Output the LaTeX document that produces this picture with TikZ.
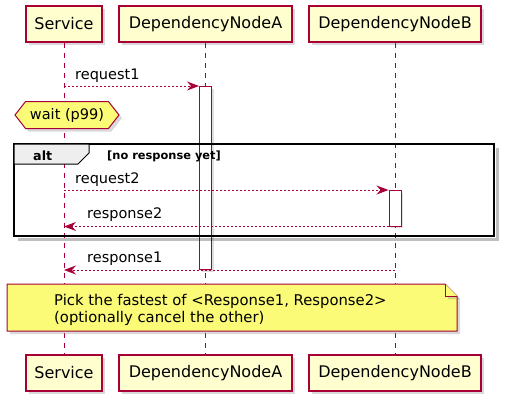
\documentclass[tikz,border=0pt]{standalone}
\usepackage{fontspec}
\setmainfont{DejaVu Sans}
\usetikzlibrary{shapes,shadows,arrows.meta,positioning,calc}
\definecolor{umlborde}{HTML}{A80036}
\definecolor{umlfondo}{HTML}{FEFECE}
\definecolor{umlnota}{HTML}{FBFB77}
\definecolor{umlpestana}{HTML}{EEEEEE}
\tikzset{
    participante/.style={
        rectangle,                % caja del participante
        draw=umlborde,            % borde granate
        fill=umlfondo,            % relleno crema
        line width=1.5pt,
        minimum width=#1,         % ancho según el nombre
        minimum height=36pt,
        inner sep=0pt,
        font=\fontsize{16}{19}\selectfont,
        drop shadow={shadow xshift=3pt, shadow yshift=-3pt, opacity=0.3}
    },
    lineavida/.style={
        draw=umlborde,
        line width=1pt,
        dash pattern=on 5pt off 5pt  % discontinua larga
    },
    activacion/.style={
        rectangle,
        draw=umlborde,
        fill=white,
        line width=1pt,
        minimum width=12pt,
        minimum height=#1,        % duración de la activación
        inner sep=0pt,
        anchor=north,
        drop shadow={shadow xshift=2pt, shadow yshift=-2pt, opacity=0.25}
    },
    mensaje/.style={
        draw=umlborde,
        line width=1pt,
        dash pattern=on 2pt off 2pt, % punteado fino
        -{Stealth[length=12pt, width=9pt, inset=4pt]}
    },
    etiqueta/.style={
        font=\fontsize{14.5}{17}\selectfont,
        inner sep=0pt,
        anchor=base west
    },
    espera/.style={
        shape=signal,             % hexágono alargado
        signal to=west and east,
        signal pointer angle=104,
        draw=umlborde,
        fill=umlnota,
        line width=1pt,
        minimum height=27pt,
        inner xsep=4pt,
        inner ysep=0pt,
        font=\fontsize{14.5}{17}\selectfont,
        drop shadow={shadow xshift=3pt, shadow yshift=-3pt, opacity=0.3}
    },
    marco/.style={draw=black, line width=2pt},
    sombramarco/.style={draw=black, line width=3pt, opacity=0.25},
    pestana/.style={draw=black, fill=umlpestana, line width=1pt},
    textoalt/.style={font=\bfseries\fontsize{12.7}{15}\selectfont, inner sep=0pt, anchor=base west},
    condicion/.style={font=\bfseries\fontsize{11.4}{14}\selectfont, inner sep=0pt, anchor=base west},
    nota/.style={
        draw=umlborde,
        fill=umlnota,
        line width=1pt,
        drop shadow={shadow xshift=3pt, shadow yshift=-3pt, opacity=0.3}
    },
    textonota/.style={
        font=\fontsize{14.8}{17}\selectfont,
        inner sep=0pt,
        align=left,
        anchor=north west
    }
}
\begin{document}
\begin{tikzpicture}[x=1pt, y=-1pt, node distance=15.5pt]
    \useasboundingbox (0,0) rectangle (510,407);
    \node[participante=76pt] (servicioArriba) at (64,24) {Service};
    \node[participante=173pt, right=of servicioArriba] (nodoAArriba) {DependencyNodeA};
    \node[participante=172pt, right=of nodoAArriba] (nodoBArriba) {DependencyNodeB};
    \node[participante=76pt, below=311.5pt of servicioArriba] (servicioAbajo) {Service};
    \node[participante=173pt, below=311.5pt of nodoAArriba] (nodoAAbajo) {DependencyNodeA};
    \node[participante=172pt, below=311.5pt of nodoBArriba] (nodoBAbajo) {DependencyNodeB};

    \draw[lineavida] (servicioArriba) -- (servicioAbajo);
    \draw[lineavida] (nodoAArriba) -- (nodoAAbajo);
    \draw[lineavida] (nodoBArriba) -- (nodoBAbajo);

    \node[activacion=183pt] (actA) at (nodoAArriba.south |- 0,86) {};
    \node[activacion=35.5pt] (actB) at (nodoBArriba.south |- 0,190) {};

    \node[espera, minimum width=104pt] (espera) at (67,115) {wait (p99)};

    \draw[sombramarco] (497,148) -- (497,239) -- (18,239);
    \draw[marco] (14,144) rectangle (494,236);
    \filldraw[pestana] (14,144) -- (89,144) -- (89,153) -- (78,164) -- (14,164) -- cycle;
    \node[textoalt] (alt) at (33,160) {alt};
    \node[condicion] (condicion) at (107,159) {[no response yet]};

    \draw[mensaje] (servicioArriba |- actA.north) -- (actA.north west);
    \node[etiqueta] (peticion1) at (75,79) {request1};
    \draw[mensaje] (servicioArriba |- actB.north) -- (actB.north west);
    \node[etiqueta] (peticion2) at (75,183) {request2};
    \draw[mensaje] (actB.south west) -- (servicioArriba |- actB.south);
    \node[etiqueta] (respuesta2) at (87,218) {response2};
    \draw[mensaje] (nodoBArriba |- actA.south) -- (servicioArriba |- actA.south);
    \node[etiqueta] (respuesta1) at (87,262) {response1};

    \filldraw[nota] (7,284) -- (445,284) -- (457,296) -- (457,331) -- (7,331) -- cycle;
    \draw[nota, drop shadow={opacity=0}] (445,284) -- (445,296) -- (457,296);
    \node[textonota] (nota) at (54,294) {Pick the fastest of <Response1, Response2>\\(optionally cancel the other)};
\end{tikzpicture}
\end{document}
